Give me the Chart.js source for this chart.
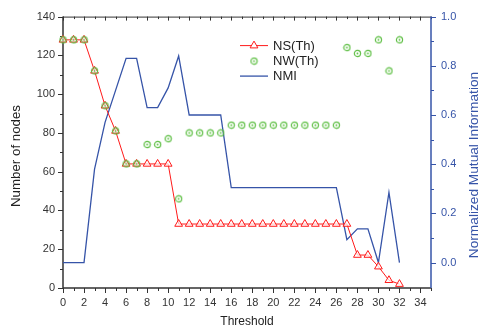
<!DOCTYPE html>
<html>
<head>
<meta charset="utf-8">
<title>Threshold chart</title>
<script src="https://cdn.jsdelivr.net/npm/chart.js@4.4.1/dist/chart.umd.min.js"></script>
<style>
    html, body { margin: 0; padding: 0; background: #ffffff; }
    #wrap { width: 482px; height: 328px; }
</style>
</head>
<body>
<div id="wrap"><canvas id="mainChart" width="482" height="328"></canvas></div>
<script>
// values
const thresholds = [0, 1, 2, 3, 4, 5, 6, 7, 8, 9, 10, 11, 12, 13, 14, 15, 16,
    17, 18, 19, 20, 21, 22, 23, 24, 25, 26, 27, 28, 29, 30, 31, 32];
const nsValues = [128, 128, 128, 112, 94, 81, 64, 64, 64, 64, 64, 33, 33, 33, 33, 33, 33,
    33, 33, 33, 33, 33, 33, 33, 33, 33, 33, 33, 17, 17, 11, 4, 2];
const nwValues = [128, 128, 128, 112, 94, 81, 64, 64, 74, 74, 77, 46, 80, 80, 80, 80, 84,
    84, 84, 84, 84, 84, 84, 84, 84, 84, 84, 124, 121, 121, 128, 112, 128];
const nmiValues = [0, 0, 0, 0.38, 0.57, 0.70, 0.83, 0.83, 0.63, 0.63, 0.71, 0.84, 0.60, 0.60, 0.60, 0.60, 0.305,
    0.305, 0.305, 0.305, 0.305, 0.305, 0.305, 0.305, 0.305, 0.305, 0.305, 0.093, 0.137, 0.137, 0, 0.285, 0];

const xTicks = [0, 2, 4, 6, 8, 10, 12, 14, 16, 18, 20, 22, 24, 26, 28, 30, 32, 34];
const leftTicks = [0, 20, 40, 60, 80, 100, 120, 140];
const rightTicks = [0, 0.2, 0.4, 0.6, 0.8, 1.0];

const seriesNames = ['NS(Th)', 'NW(Th)', 'NMI'];

const RED = '#ff1a1a';
const GREEN = '#5fbf45';
const BLUE = '#3654a8';
const INK = '#333333';
const FONT = "'Liberation Sans', Arial, sans-serif";

// hollow circle with a dot in the middle, like the Origin symbol
function makeDotCircle(color) {
    const c = document.createElement('canvas');
    c.width = 9;
    c.height = 9;
    const g = c.getContext('2d');
    g.strokeStyle = color;
    g.lineWidth = 1.2;
    g.beginPath();
    g.arc(4.5, 4.5, 3.1, 0, Math.PI * 2);
    g.stroke();
    g.fillStyle = color;
    g.beginPath();
    g.arc(4.5, 4.5, 0.9, 0, Math.PI * 2);
    g.fill();
    return c;
}
const dotCircle = makeDotCircle(GREEN);

function toPoints(values) {
    return thresholds.map((t, i) => ({ x: t, y: values[i] }));
}

function drawTicks(ctx, scale, values, len, horizontal, base, dir) {
    values.forEach(v => {
        const p = Math.round(scale.getPixelForValue(v)) + 0.5;
        ctx.beginPath();
        if (horizontal) {
            ctx.moveTo(p, base);
            ctx.lineTo(p, base + dir * len);
        } else {
            ctx.moveTo(base, p);
            ctx.lineTo(base + dir * len, p);
        }
        ctx.stroke();
    });
}

const framePlugin = {
    id: 'frame',
    beforeDatasetsDraw(chart) {
        const ctx = chart.ctx;
        const a = chart.chartArea;
        const x = chart.scales.x, y = chart.scales.y, y2 = chart.scales.y2;
        const xMinor = [], yMinor = [], y2Minor = [];
        for (let v = 1; v <= 35; v += 2) xMinor.push(v);
        for (let v = 10; v < 140; v += 20) yMinor.push(v);
        for (let v = 0.1; v < 1; v += 0.2) y2Minor.push(v);

        ctx.save();
        // black frame: left, bottom, top
        ctx.strokeStyle = INK;
        ctx.lineWidth = 1.5;
        ctx.beginPath();
        ctx.moveTo(a.left, a.top);
        ctx.lineTo(a.left, a.bottom);
        ctx.lineTo(a.right, a.bottom);
        ctx.stroke();
        ctx.lineWidth = 1;
        ctx.beginPath();
        ctx.moveTo(a.left, a.top + 0.5);
        ctx.lineTo(a.right, a.top + 0.5);
        ctx.stroke();

        ctx.lineWidth = 1;
        drawTicks(ctx, x, xTicks, 5, true, a.bottom, 1);
        drawTicks(ctx, x, xMinor, 3, true, a.bottom, 1);
        drawTicks(ctx, x, xTicks, 4, true, a.top, 1);
        drawTicks(ctx, x, xMinor, 2.5, true, a.top, 1);
        drawTicks(ctx, y, leftTicks, 5, false, a.left, -1);
        drawTicks(ctx, y, yMinor, 3, false, a.left, -1);

        // blue right axis
        ctx.strokeStyle = BLUE;
        ctx.lineWidth = 1.5;
        ctx.beginPath();
        ctx.moveTo(a.right, a.top);
        ctx.lineTo(a.right, a.bottom);
        ctx.stroke();
        ctx.lineWidth = 1;
        drawTicks(ctx, y2, rightTicks, 5, false, a.right, 1);
        drawTicks(ctx, y2, y2Minor, 3, false, a.right, 1);

        // axis titles
        ctx.textAlign = 'center';
        ctx.textBaseline = 'middle';
        ctx.fillStyle = '#222222';
        ctx.font = '12px ' + FONT;
        ctx.fillText('Threshold', (a.left + a.right) / 2, 322);
        ctx.save();
        ctx.translate(16, 156);
        ctx.rotate(-Math.PI / 2);
        ctx.font = '13.3px ' + FONT;
        ctx.fillText('Number of nodes', 0, 0);
        ctx.restore();
        ctx.save();
        ctx.translate(474, 165);
        ctx.rotate(-Math.PI / 2);
        ctx.fillStyle = BLUE;
        ctx.font = '13.7px ' + FONT;
        ctx.fillText('Normalized Mutual Information', 0, 0);
        ctx.restore();
        ctx.restore();
    },
    afterDraw(chart) {
        // legend inside the plot
        const ctx = chart.ctx;
        const a = chart.chartArea;
        const lx = a.left + 177, lw = 28;
        const rows = [a.top + 29, a.top + 44.5, a.top + 59.5];
        ctx.save();
        ctx.lineWidth = 1;
        ctx.strokeStyle = RED;
        ctx.beginPath();
        ctx.moveTo(lx, rows[0]);
        ctx.lineTo(lx + lw, rows[0]);
        ctx.stroke();
        const cx = lx + lw / 2;
        ctx.fillStyle = '#ffffff';
        ctx.beginPath();
        ctx.moveTo(cx, rows[0] - 4.5);
        ctx.lineTo(cx + 3.9, rows[0] + 2.3);
        ctx.lineTo(cx - 3.9, rows[0] + 2.3);
        ctx.closePath();
        ctx.fill();
        ctx.stroke();
        ctx.drawImage(dotCircle, cx - 4.5, rows[1] - 4.5);
        ctx.strokeStyle = BLUE;
        ctx.lineWidth = 1.3;
        ctx.beginPath();
        ctx.moveTo(lx, rows[2]);
        ctx.lineTo(lx + lw, rows[2]);
        ctx.stroke();
        ctx.fillStyle = '#222222';
        ctx.font = '13px ' + FONT;
        ctx.textAlign = 'left';
        ctx.textBaseline = 'middle';
        seriesNames.forEach((name, i) => ctx.fillText(name, lx + lw + 5, rows[i] + 0.5));
        ctx.restore();
    }
};

const ctx = document.getElementById('mainChart').getContext('2d');
new Chart(ctx, {
    type: 'line',
    data: {
        datasets: [{
            label: seriesNames[0],
            data: toPoints(nsValues),
            yAxisID: 'y',
            borderColor: RED,
            borderWidth: 1,
            pointStyle: 'triangle',
            pointRadius: 4.5,
            pointBorderWidth: 1,
            pointBorderColor: RED,
            pointBackgroundColor: 'rgba(255,255,255,0.7)',
            order: 1,
            clip: false
        }, {
            label: seriesNames[1],
            data: toPoints(nwValues),
            yAxisID: 'y',
            showLine: false,
            pointStyle: dotCircle,
            pointRadius: 4,
            order: 0,
            clip: false
        }, {
            label: seriesNames[2],
            data: toPoints(nmiValues),
            yAxisID: 'y2',
            borderColor: BLUE,
            borderWidth: 1.3,
            pointRadius: 0,
            order: 2
        }]
    },
    options: {
        responsive: false,
        animation: false,
        events: [],
        layout: { padding: { top: 14, left: 0, right: 0, bottom: 0 } },
        plugins: {
            legend: { display: false },
            tooltip: { enabled: false }
        },
        scales: {
            x: {
                type: 'linear',
                min: 0,
                max: 35,
                afterBuildTicks: s => { s.ticks = xTicks.map(v => ({ value: v })); },
                afterFit: s => { s.height = 40; },
                grid: { display: false, drawTicks: false },
                border: { display: false },
                ticks: { font: { family: FONT, size: 11 }, color: INK, padding: 8, maxRotation: 0, autoSkip: false }
            },
            y: {
                position: 'left',
                min: 0,
                max: 140,
                afterBuildTicks: s => { s.ticks = leftTicks.map(v => ({ value: v })); },
                afterFit: s => { s.width = 63; },
                grid: { display: false, drawTicks: false },
                border: { display: false },
                ticks: { font: { family: FONT, size: 11 }, color: INK, padding: 8 }
            },
            y2: {
                position: 'right',
                min: -0.1034,
                max: 1.0,
                afterBuildTicks: s => { s.ticks = rightTicks.map(v => ({ value: v })); },
                afterFit: s => { s.width = 51; },
                grid: { display: false, drawTicks: false },
                border: { display: false },
                ticks: {
                    font: { family: FONT, size: 11 },
                    color: BLUE,
                    padding: 10,
                    callback: v => v.toFixed(1)
                }
            }
        }
    },
    plugins: [framePlugin]
});
</script>
</body>
</html>
